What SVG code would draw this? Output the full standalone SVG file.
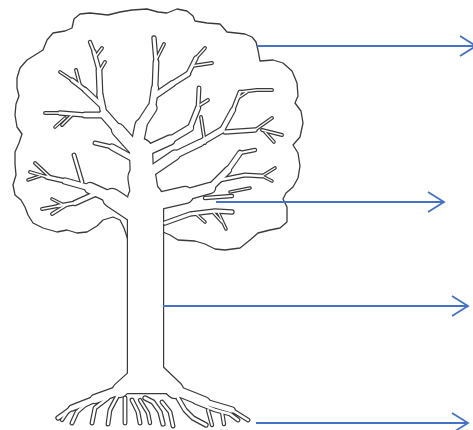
<svg xmlns="http://www.w3.org/2000/svg" xmlns:xlink="http://www.w3.org/1999/xlink" width="473" height="430" viewBox="0 0 473 430">
<style>
.dk{stroke:#3a3a3a;fill:none;stroke-linecap:round;stroke-linejoin:round}
.lt{stroke:#ffffff;fill:none;stroke-linecap:round;stroke-linejoin:round}
.canopy{fill:#ffffff;stroke:#3a3a3a;stroke-width:1.3;stroke-linejoin:round}
.conn{stroke:#4472C4;stroke-width:1.8;fill:none}
</style>
<defs>
<marker id="chev" markerUnits="userSpaceOnUse" markerWidth="20" markerHeight="24" refX="17" refY="11" orient="auto" overflow="visible">
<path d="M1,1 L17,11 L1,21" fill="none" stroke="#4472C4" stroke-width="1.8" stroke-linejoin="miter"/>
</marker>
<path id="w35" d="M145.5,375 L145.5,200"/>
<path id="w27" d="M145.5,200 L142,178"/>
<path id="w22" d="M142,178 L141,150"/>
<path id="w18" d="M133,212 L112,198"/>
<path id="w16" d="M150,203 L185,195 M152,368 L175,390"/>
<path id="w14" d="M140,372 L120,390 M126,386 L166,386"/>
<path id="w12" d="M136,150 L118,130"/>
<path id="w11" d="M137,145 L141,125"/>
<path id="w10" d="M112,198 L90,188 M185,195 L210,188"/>
<path id="w9" d="M141,125 L152,108 M148,150 L170,140 M150,172 L175,155 M175,390 L205,402"/>
<path id="w8" d="M118,130 L104,114 M120,390 L95,399"/>
<path id="w6" d="M152,108 L155,88 M170,140 L190,128 M175,155 L200,143 M210,188 L228,170"/>
<path id="w5" d="M104,114 L100,95 M200,143 L222,130 M90,188 L65,181 M132,158 L112,147 M95,399 L72,408 M205,402 L232,410 M156,95 L172,84"/>
<path id="w45" d="M100,95 L99,70 M155,88 L156,62 M104,115 L85,115"/>
<path id="w4" d="M190,128 L198,108 M222,130 L233,110 M228,170 L240,153 M101,105 L85,90 M95,194 L75,203 M172,84 L188,74"/>
<path id="w3" d="M99,70 L94,52 M156,62 L154,38 M188,74 L196,58 M85,90 L72,80 M85,115 L60,113 M65,181 L47,177 M225,132 L255,130 M72,408 L58,418 M165,223 L190,214 L215,211 L232,212 M145,398 L153,402 L160,412 L163,424 M178,398 L185,410 L193,418 L206,425"/>
<path id="w25" d="M198,108 L199,88 M233,110 L240,92 M112,147 L95,143 M82,182 L74,155 M75,203 L58,206 M220,180 L245,175 L262,176 M232,410 L248,420 M100,398 L85,405 L77,412 L72,423 M108,398 L95,408 L92,423 M118,395 L110,410 L108,424 M125,398 L125,423 M132,400 L138,412 L140,423 M162,402 L170,412 L173,426 M195,402 L215,410 L230,414 L238,420"/>
<path id="w2" d="M94,52 L90,42 M240,153 L255,150 M205,198 L232,196 M208,410 L212,425 M222,412 L224,424 M140,400 L148,413 L150,423 M70,408 L62,420"/>
<path id="w15" d="M96,56 L102,48 M99,72 L105,62 M72,80 L60,72 M80,85 L76,70 M60,113 L45,113 M72,115 L62,125 M47,177 L30,172 M50,177 L35,163 M58,206 L42,209 M68,204 L52,214 M157,58 L164,44 M196,58 L205,48 M192,66 L212,63 M200,105 L208,100 M201,117 L205,143 M255,130 L272,118 M262,130 L282,135 M238,98 L247,92 M240,92 L257,90 L272,90"/>
<path id="w12t" d="M65,118 L55,127 M40,176 L28,180 M62,204 L52,199 M265,132 L274,142 M262,176 L275,168 M262,176 L272,181 M230,192 L250,188 M195,213 L205,222 M212,211 L222,222 M218,212 L226,229"/>
</defs>
<g id="tree">
<path id="canopy" class="canopy" d="M128,240 L124,228 L120,220 L113,217 L103,220 L97,226 L87,232 L77,233 L67,230 L57,232 L43,228 L33,223 L28,215 L25,207 L21,200 L15,195 L13,185 L16,175 L15,164 L15,152 L19,143 L22,134 L17,127 L15,115 L16,104 L19,96 L17,88 L17,78 L20,68 L27,60 L35,55 L43,50 L47,40 L53,33 L65,31 L72,28 L74,19 L80,14 L90,13 L108,15 L120,12 L132,10 L147,9 L158,12 L167,13 L177,9 L187,11 L193,16 L195,21 L207,23 L220,24 L227,32 L245,34 L252,37 L256,42 L258,50 L260,61 L273,60 L283,63 L292,71 L297,83 L298,96 L295,103 L301,111 L303,123 L300,137 L293,145 L298,153 L300,166 L298,178 L293,187 L286,193 L283,199 L287,207 L287,222 L280,228 L270,230 L258,233 L250,240 L240,248 L225,250 L215,249 L205,244 L195,241 L178,240 L170,235 L163,232 L163,242 Z"/>
<g id="branches-outline" class="dk">
<use xlink:href="#w35" stroke-width="37.4"/>
<use xlink:href="#w27" stroke-width="29.4"/>
<use xlink:href="#w22" stroke-width="24.4"/>
<use xlink:href="#w18" stroke-width="20.4"/>
<use xlink:href="#w16" stroke-width="18.4"/>
<use xlink:href="#w14" stroke-width="16.4"/>
<use xlink:href="#w12" stroke-width="14.4"/>
<use xlink:href="#w11" stroke-width="13.4"/>
<use xlink:href="#w10" stroke-width="12.4"/>
<use xlink:href="#w9" stroke-width="11.4"/>
<use xlink:href="#w8" stroke-width="10.4"/>
<use xlink:href="#w6" stroke-width="8.4"/>
<use xlink:href="#w5" stroke-width="7.4"/>
<use xlink:href="#w45" stroke-width="6.9"/>
<use xlink:href="#w4" stroke-width="6.4"/>
<use xlink:href="#w3" stroke-width="5.4"/>
<use xlink:href="#w25" stroke-width="4.9"/>
<use xlink:href="#w2" stroke-width="4.4"/>
<use xlink:href="#w15" stroke-width="3.9"/>
<use xlink:href="#w12t" stroke-width="3.6"/>
</g>
<g id="branches-fill" class="lt">
<use xlink:href="#w35" stroke-width="35"/>
<use xlink:href="#w27" stroke-width="27"/>
<use xlink:href="#w22" stroke-width="22"/>
<use xlink:href="#w18" stroke-width="18"/>
<use xlink:href="#w16" stroke-width="16"/>
<use xlink:href="#w14" stroke-width="14"/>
<use xlink:href="#w12" stroke-width="12"/>
<use xlink:href="#w11" stroke-width="11"/>
<use xlink:href="#w10" stroke-width="10"/>
<use xlink:href="#w9" stroke-width="9"/>
<use xlink:href="#w8" stroke-width="8"/>
<use xlink:href="#w6" stroke-width="6"/>
<use xlink:href="#w5" stroke-width="5"/>
<use xlink:href="#w45" stroke-width="4.5"/>
<use xlink:href="#w4" stroke-width="4"/>
<use xlink:href="#w3" stroke-width="3"/>
<use xlink:href="#w25" stroke-width="2.5"/>
<use xlink:href="#w2" stroke-width="2"/>
<use xlink:href="#w15" stroke-width="1.5"/>
<use xlink:href="#w12t" stroke-width="1.2"/>
</g>
</g>
<g id="connectors">
<line class="conn" x1="257" y1="46" x2="476" y2="46" marker-end="url(#chev)"/>
<line class="conn" x1="216" y1="202" x2="444" y2="202" marker-end="url(#chev)"/>
<line class="conn" x1="163" y1="306" x2="468" y2="306" marker-end="url(#chev)"/>
<line class="conn" x1="256" y1="423" x2="468" y2="423" marker-end="url(#chev)"/>
</g>
</svg>
